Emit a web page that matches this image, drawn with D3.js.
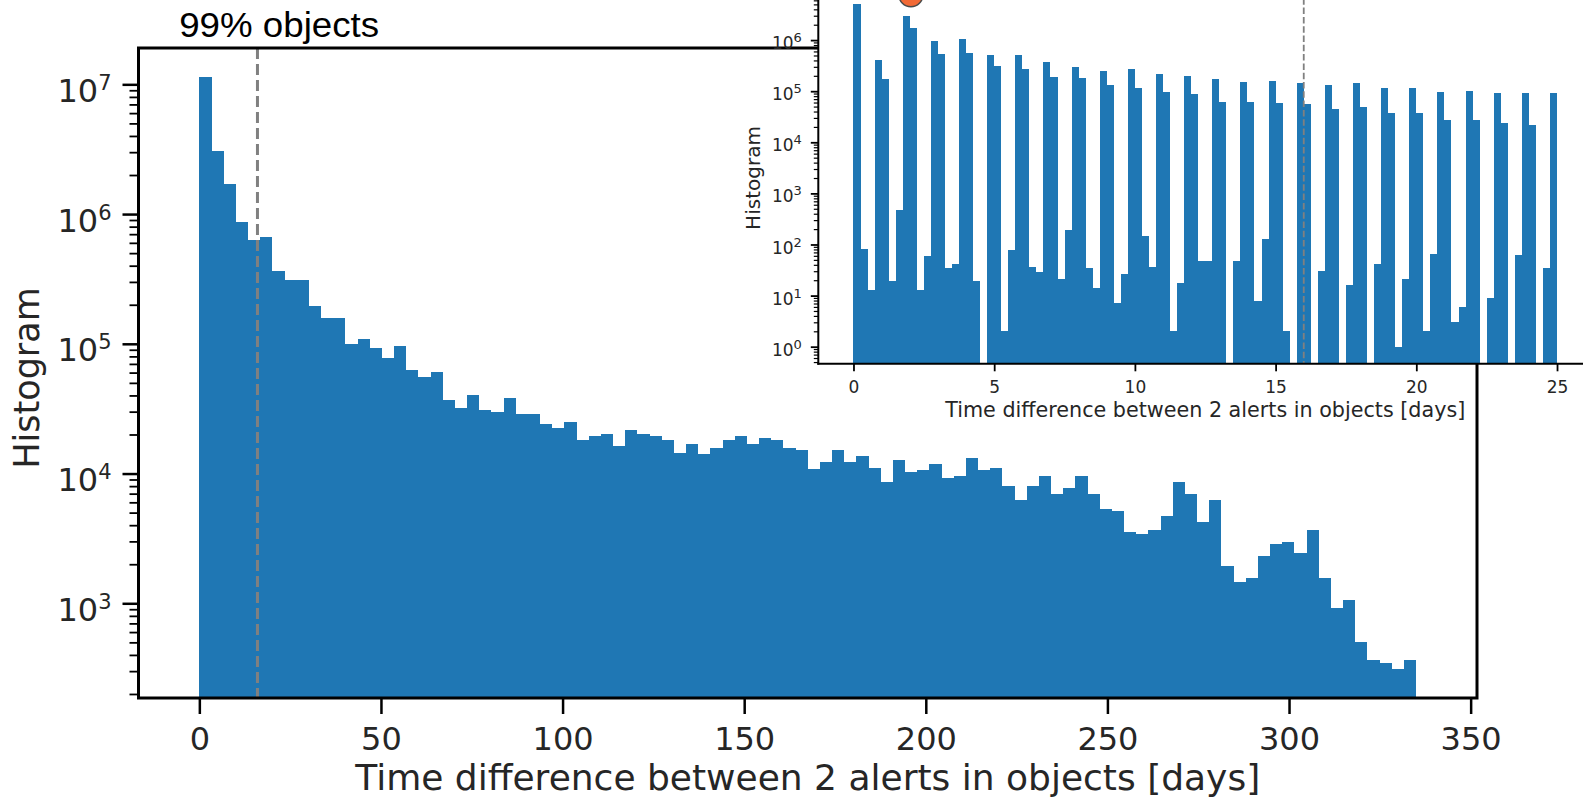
<!DOCTYPE html>
<html>
<head>
<meta charset="utf-8">
<script src="https://cdn.jsdelivr.net/npm/d3@7"></script>
<style>
  html, body { margin: 0; padding: 0; background: #fff; }
  svg { display: block; }
</style>
</head>
<body>
<svg id="chart" width="1583" height="799"></svg>
<script>
// ---------------- DATA ----------------
// Main histogram: 100 bins over 0..335 days
const mainRange = [0, 335];
const mainCounts = [
  1.13e7, 3.06e6, 1.72e6, 8.76e5, 6.3e5, 6.6e5, 3.62e5, 3.13e5, 3.13e5, 1.96e5,
  1.59e5, 1.59e5, 1.0e5, 1.08e5, 9.3e4, 7.8e4, 9.6e4, 6.3e4, 5.5e4, 6.1e4,
  3.7e4, 3.2e4, 4.0e4, 3.1e4, 3.0e4, 3.85e4, 2.88e4, 2.87e4, 2.4e4, 2.25e4,
  2.5e4, 1.8e4, 1.95e4, 2.0e4, 1.63e4, 2.17e4, 2.0e4, 1.94e4, 1.8e4, 1.43e4,
  1.68e4, 1.41e4, 1.58e4, 1.8e4, 1.94e4, 1.68e4, 1.88e4, 1.8e4, 1.58e4, 1.51e4,
  1.09e4, 1.23e4, 1.51e4, 1.23e4, 1.37e4, 1.11e4, 8.6e3, 1.27e4, 1.03e4, 1.06e4,
  1.18e4, 9.3e3, 9.5e3, 1.31e4, 1.07e4, 1.11e4, 8.0e3, 6.3e3, 8.0e3, 9.6e3,
  7.0e3, 7.8e3, 9.6e3, 7.0e3, 5.3e3, 5.1e3, 3.55e3, 3.45e3, 3.66e3, 4.7e3,
  8.6e3, 7.0e3, 4.25e3, 6.3e3, 1.95e3, 1.47e3, 1.57e3, 2.3e3, 2.86e3, 2.98e3,
  2.42e3, 3.66e3, 1.57e3, 925, 1.06e3, 500, 366, 345, 310, 366
];
const mainXTicks = [0, 50, 100, 150, 200, 250, 300, 350];
const mainYTicks = [1e3, 1e4, 1e5, 1e6, 1e7];

// Inset histogram: 100 bins over 0..25 days
const insetRange = [0, 25];
const insetCounts = [
  5.2e6, 83, 13, 4.1e5, 1.7e5, 19, 480, 2.9e6, 1.7e6, 13,
  59, 9.8e5, 5.4e5, 35, 42, 1.03e6, 5.7e5, 19, 0, 5.2e5,
  3.05e5, 2, 77, 5.2e5, 2.75e5, 36, 29, 3.7e5, 1.9e5, 21,
  190, 3.0e5, 1.8e5, 35, 14, 2.46e5, 1.3e5, 7, 26, 2.75e5,
  1.16e5, 147, 37, 2.2e5, 9.7e4, 2, 18, 2.0e5, 8.9e4, 48,
  48, 1.75e5, 6.2e4, 0, 48, 1.5e5, 6.2e4, 8, 127, 1.6e5,
  5.9e4, 2, 0, 1.43e5, 5.7e4, 0, 30, 1.3e5, 4.4e4, 0,
  16, 1.45e5, 5.0e4, 0, 42, 1.16e5, 3.7e4, 1, 21, 1.16e5,
  3.7e4, 2, 65, 9.6e4, 2.75e4, 3, 6, 1.03e5, 2.75e4, 0,
  9, 9.1e4, 2.4e4, 0, 62, 9.1e4, 2.2e4, 0, 35, 9.1e4
];
const insetXTicks = [0, 5, 10, 15, 20, 25];
const insetYTicks = [1e0, 1e1, 1e2, 1e3, 1e4, 1e5, 1e6];

const thresholdDay = 16;              // 99% objects line
const thresholdLabel = "99% objects";
const markerPoints = [{ day: 2.04, value: 7.7e6 }];
const xLabel = "Time difference between 2 alerts in objects [days]";
const yLabel = "Histogram";

// ---------------- DRAW ----------------
const svg = d3.select("#chart");
const FONT = "'DejaVu Sans', sans-serif";
const TXT = "#262626";
const BAR = "#1f77b4";

function addPowerLabel(sel, v, baseSize, supSize, supShift) {
  const e = Math.round(Math.log10(v));
  sel.text(null);
  sel.append("tspan").attr("font-size", baseSize).text("10");
  sel.append("tspan").attr("font-size", supSize).attr("dy", -supShift).text(e);
}

// ===== Main axes =====
const M = { left: 138.5, right: 1477, top: 48, bottom: 698 };
const x = d3.scaleLinear().domain([-16.75, 351.75]).range([M.left, M.right]);
const y = d3.scaleLog().domain([Math.pow(10, 2.27), Math.pow(10, 7.28)]).range([M.bottom, M.top]);

svg.append("clipPath").attr("id", "mainClip")
  .append("rect").attr("x", M.left).attr("y", M.top)
  .attr("width", M.right - M.left).attr("height", M.bottom - M.top);

const mainW = (mainRange[1] - mainRange[0]) / mainCounts.length;
const mainBins = mainCounts.map((c, i) => ({ x0: mainRange[0] + i * mainW, x1: mainRange[0] + (i + 1) * mainW, c }));

svg.append("g").attr("clip-path", "url(#mainClip)")
  .selectAll("rect").data(mainBins.filter(d => d.c > 0)).join("rect")
  .attr("x", d => x(d.x0))
  .attr("width", d => x(d.x1) - x(d.x0))
  .attr("y", d => y(d.c))
  .attr("height", d => M.bottom - y(d.c))
  .attr("fill", BAR)
  .attr("shape-rendering", "crispEdges");

// threshold line
svg.append("line")
  .attr("x1", x(thresholdDay)).attr("x2", x(thresholdDay))
  .attr("y1", M.top).attr("y2", M.bottom)
  .attr("stroke", "#808080").attr("stroke-width", 3)
  .attr("stroke-dasharray", "11,5");

// x axis
const gx = svg.append("g").attr("transform", `translate(0,${M.bottom})`)
  .call(d3.axisBottom(x).tickValues(mainXTicks).tickSize(16).tickPadding(12).tickFormat(d3.format("d")));
gx.select(".domain").remove();
gx.selectAll(".tick line").attr("stroke", "#000").attr("stroke-width", 2.5);
gx.selectAll(".tick text").attr("font-family", FONT).attr("font-size", 32).attr("fill", TXT)
  .attr("dy", null).attr("y", 52);

// y axis major
const gy = svg.append("g").attr("transform", `translate(${M.left},0)`)
  .call(d3.axisLeft(y).tickValues(mainYTicks).tickSize(16).tickPadding(10));
gy.select(".domain").remove();
gy.selectAll(".tick line").attr("stroke", "#000").attr("stroke-width", 2.5);
gy.selectAll(".tick text").attr("font-family", FONT).attr("fill", TXT)
  .attr("x", -27).attr("dy", null).attr("y", 17)
  .each(function (d) { addPowerLabel(d3.select(this), d, 32, 21, 12); });

// y minor ticks
const mainMinor = [];
for (let k = 2; k <= 7; k++) for (let m = 2; m <= 9; m++) {
  const v = m * Math.pow(10, k);
  if (v >= y.domain()[0] && v <= y.domain()[1]) mainMinor.push(v);
}
const gyMinor = svg.append("g").attr("transform", `translate(${M.left},0)`)
  .call(d3.axisLeft(y).tickValues(mainMinor).tickSize(9).tickFormat(""));
gyMinor.select(".domain").remove();
gyMinor.selectAll(".tick line").attr("stroke", "#000").attr("stroke-width", 1.8);

// spines
svg.append("rect").attr("x", M.left).attr("y", M.top)
  .attr("width", M.right - M.left).attr("height", M.bottom - M.top)
  .attr("fill", "none").attr("stroke", "#000").attr("stroke-width", 3);

// labels
svg.append("text").attr("x", (M.left + M.right) / 2).attr("y", 790)
  .attr("text-anchor", "middle").attr("font-family", FONT).attr("font-size", 36).attr("fill", TXT)
  .text(xLabel);
svg.append("text").attr("transform", `translate(39,${(M.top + M.bottom) / 2 + 5}) rotate(-90)`)
  .attr("text-anchor", "middle").attr("font-family", FONT).attr("font-size", 35).attr("fill", TXT)
  .text(yLabel);

svg.append("text").attr("x", x(thresholdDay) + 21.7).attr("y", 37)
  .attr("text-anchor", "middle")
  .attr("font-family", "'Liberation Sans', Arial, sans-serif").attr("font-size", 35)
  .attr("textLength", 200).attr("lengthAdjust", "spacingAndGlyphs")
  .attr("fill", "#000").text(thresholdLabel);

// ===== Inset axes =====
const I = { left: 818.3, right: 1592.2, top: -11, bottom: 363.8 };
const xi = d3.scaleLinear().domain([-1.25, 26.25]).range([I.left, I.right]);
const yi = d3.scaleLog().domain([Math.pow(10, -0.335), 1e7]).range([I.bottom, I.top]);

// white background of inset plot area
svg.append("rect").attr("x", I.left).attr("y", 0)
  .attr("width", 1583 - I.left).attr("height", I.bottom).attr("fill", "#fff");

svg.append("clipPath").attr("id", "insetClip")
  .append("rect").attr("x", I.left).attr("y", I.top)
  .attr("width", I.right - I.left).attr("height", I.bottom - I.top);

const insetW = (insetRange[1] - insetRange[0]) / insetCounts.length;
const insetBins = insetCounts.map((c, i) => ({ x0: insetRange[0] + i * insetW, x1: insetRange[0] + (i + 1) * insetW, c }));

svg.append("g").attr("clip-path", "url(#insetClip)")
  .selectAll("rect").data(insetBins.filter(d => d.c > 0)).join("rect")
  .attr("x", d => xi(d.x0))
  .attr("width", d => xi(d.x1) - xi(d.x0))
  .attr("y", d => yi(d.c))
  .attr("height", d => I.bottom - yi(d.c))
  .attr("fill", BAR)
  .attr("shape-rendering", "crispEdges");

svg.append("line")
  .attr("x1", xi(thresholdDay)).attr("x2", xi(thresholdDay))
  .attr("y1", I.top).attr("y2", I.bottom)
  .attr("stroke", "#808080").attr("stroke-width", 1.8)
  .attr("stroke-dasharray", "6.5,2.8");

const gxi = svg.append("g").attr("transform", `translate(0,${I.bottom})`)
  .call(d3.axisBottom(xi).tickValues(insetXTicks).tickSize(7.5).tickPadding(6).tickFormat(d3.format("d")));
gxi.select(".domain").remove();
gxi.selectAll(".tick line").attr("stroke", "#000").attr("stroke-width", 1.8);
gxi.selectAll(".tick text").attr("font-family", FONT).attr("font-size", 17).attr("fill", TXT)
  .attr("dy", null).attr("y", 29.5);

const gyi = svg.append("g").attr("transform", `translate(${I.left},0)`)
  .call(d3.axisLeft(yi).tickValues(insetYTicks).tickSize(7.5).tickPadding(6));
gyi.select(".domain").remove();
gyi.selectAll(".tick line").attr("stroke", "#000").attr("stroke-width", 1.8);
gyi.selectAll(".tick text").attr("font-family", FONT).attr("fill", TXT)
  .attr("x", -16.5).attr("dy", null).attr("y", 8.6)
  .each(function (d) { addPowerLabel(d3.select(this), d, 17, 13, 7); });

const insetMinor = [];
for (let k = -1; k <= 6; k++) for (let m = 2; m <= 9; m++) {
  const v = m * Math.pow(10, k);
  if (v >= yi.domain()[0] && v <= yi.domain()[1]) insetMinor.push(v);
}
const gyiMinor = svg.append("g").attr("transform", `translate(${I.left},0)`)
  .call(d3.axisLeft(yi).tickValues(insetMinor).tickSize(4.5).tickFormat(""));
gyiMinor.select(".domain").remove();
gyiMinor.selectAll(".tick line").attr("stroke", "#000").attr("stroke-width", 1.2);

// inset spines (left and bottom only)
svg.append("line").attr("x1", I.left).attr("x2", I.left).attr("y1", I.top).attr("y2", I.bottom + 1)
  .attr("stroke", "#000").attr("stroke-width", 2);
svg.append("line").attr("x1", I.left - 1).attr("x2", I.right).attr("y1", I.bottom).attr("y2", I.bottom)
  .attr("stroke", "#000").attr("stroke-width", 2);

svg.append("text").attr("x", (I.left + I.right) / 2).attr("y", 417)
  .attr("text-anchor", "middle").attr("font-family", FONT).attr("font-size", 20.7).attr("fill", TXT)
  .text(xLabel);
svg.append("text").attr("transform", `translate(760,178) rotate(-90)`)
  .attr("text-anchor", "middle").attr("font-family", FONT).attr("font-size", 20).attr("fill", TXT)
  .text(yLabel);

// orange marker
svg.selectAll("circle.marker").data(markerPoints).join("circle")
  .attr("class", "marker")
  .attr("cx", d => xi(d.day)).attr("cy", d => yi(d.value)).attr("r", 12)
  .attr("fill", "#f26a36").attr("stroke", "#4a4a4a").attr("stroke-width", 1.5);
</script>
</body>
</html>
